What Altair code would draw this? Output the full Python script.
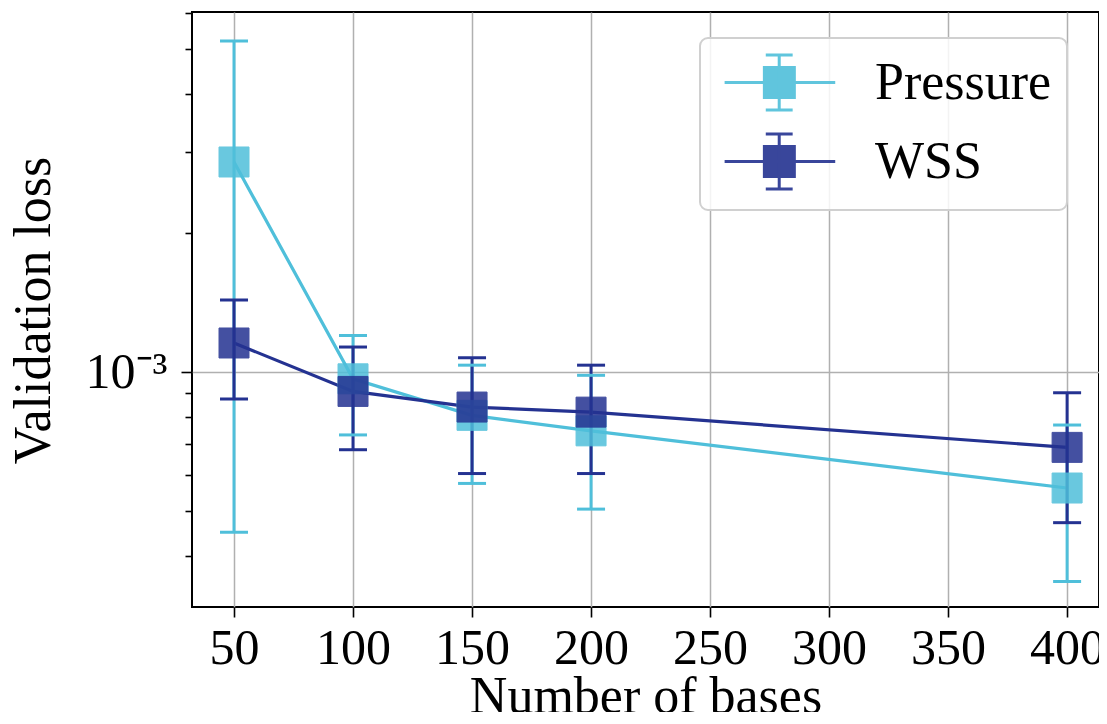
import altair as alt
import pandas as pd

# ---- data ----
bases = [50, 100, 150, 200, 400]
series_names = ["Pressure", "WSS"]
pressure_mean = [2.85e-3, 9.67e-4, 8.06e-4, 7.46e-4, 5.61e-4]
pressure_upper = [5.21e-3, 1.20e-3, 1.035e-3, 9.84e-4, 7.68e-4]
pressure_lower = [4.50e-4, 7.31e-4, 5.74e-4, 5.05e-4, 3.52e-4]
wss_mean = [1.156e-3, 9.08e-4, 8.40e-4, 8.19e-4, 6.87e-4]
wss_upper = [1.432e-3, 1.133e-3, 1.074e-3, 1.035e-3, 9.02e-4]
wss_lower = [8.74e-4, 6.79e-4, 6.03e-4, 6.03e-4, 4.72e-4]

x_ticks = [50, 100, 150, 200, 250, 300, 350, 400]
y_major = [1e-3]
y_minor = [4e-4, 5e-4, 6e-4, 7e-4, 8e-4, 9e-4, 2e-3, 3e-3, 4e-3, 5e-3, 6e-3]
colors = ["#4FBFDA", "#243291"]

rows = []
for name, m, lo, up in [("Pressure", pressure_mean, pressure_lower, pressure_upper),
                        ("WSS", wss_mean, wss_lower, wss_upper)]:
    for i, b in enumerate(bases):
        rows.append({"series": name, "bases": b, "mean": m[i], "lower": lo[i], "upper": up[i]})
df = pd.DataFrame(rows)

FONT = "Liberation Serif"
FS = 52
TFS = 50

xscale = alt.Scale(domain=[32.35, 413.4], nice=False, zero=False)
yscale = alt.Scale(type="log", domain=[3.10e-4, 6.02e-3], nice=False)
cscale = alt.Scale(domain=series_names, range=colors)

x_axis = alt.Axis(values=x_ticks, title="Number of bases", grid=True, domain=False,
                  tickSize=10, tickWidth=1.6, tickColor="black",
                  labelFont=FONT, labelFontSize=TFS, labelColor="black", labelPadding=6,
                  labelFlush=False, labelOverlap=False,
                  titleFont=FONT, titleFontSize=FS, titleFontWeight="normal", titleColor="black",
                  titleBaseline="alphabetic", titleY=105,
                  gridColor="#b0b0b0", gridWidth=1.5)

y_axis = alt.Axis(values=y_major + y_minor, title="Validation loss", grid=True, domain=False,
                  labelExpr="datum.value == 0.001 ? '10⁻³' : ''",
                  tickSize={"condition": {"test": "datum.value == 0.001", "value": 11}, "value": 7},
                  tickWidth=1.6, tickColor="black",
                  gridOpacity={"condition": {"test": "datum.value == 0.001", "value": 1}, "value": 0},
                  gridColor="#b0b0b0", gridWidth=1.5,
                  labelFont=FONT, labelFontSize=TFS, labelColor="black", labelPadding=14,
                  labelFlush=False, labelOverlap=False,
                  titleFont=FONT, titleFontSize=FS, titleFontWeight="normal", titleColor="black",
                  titleAngle=270, titleBaseline="alphabetic", titleX=-143, titleY=298,
                  titleAlign="center")

sym_path = ("M-0.71,0H3.24"
            "M0.71,-0.54H1.78V0.54H0.71Z"
            "M1.24,-0.98V0.98"
            "M0.76,-0.98H1.72"
            "M0.76,0.98H1.72")

legend = alt.Legend(title=None, orient="none", legendX=508, legendY=26,
                    fillColor="rgba(255,255,255,0.85)", strokeColor="#d0d0d0",
                    cornerRadius=8, padding=15, rowPadding=12,
                    labelFont=FONT, labelFontSize=FS, labelColor="black", labelOffset=101,
                    symbolType=sym_path, symbolSize=3136, symbolStrokeWidth=3,
                    symbolOpacity=0.9, labelLimit=400)

base = alt.Chart(df)
X = alt.X("bases:Q", scale=xscale, axis=x_axis)
C = alt.Color("series:N", scale=cscale, legend=legend)

lines = base.mark_line(strokeWidth=3.2).encode(
    x=X,
    y=alt.Y("mean:Q", scale=yscale, axis=y_axis),
    color=C,
    order="bases:Q",
)

bars = base.mark_rule(strokeWidth=3).encode(
    x=X,
    y=alt.Y("lower:Q", scale=yscale),
    y2="upper:Q",
    color=C,
)
cap_top = base.mark_tick(orient="horizontal", size=28, thickness=3, opacity=1).encode(
    x=X, y=alt.Y("upper:Q", scale=yscale), color=C,
)
cap_bot = base.mark_tick(orient="horizontal", size=28, thickness=3, opacity=1).encode(
    x=X, y=alt.Y("lower:Q", scale=yscale), color=C,
)

markers = base.mark_square(size=900, opacity=0.85, strokeWidth=1).encode(
    x=X,
    y=alt.Y("mean:Q", scale=yscale),
    color=C,
    stroke=alt.Stroke("series:N", scale=cscale, legend=legend),
)

chart = alt.layer(lines, bars, cap_top, cap_bot, markers).properties(
    width=907, height=595,
    background="white",
    autosize=alt.AutoSizeParams(type="none"),
    padding={"left": 184, "top": 4, "right": 0, "bottom": 105},
).configure_view(stroke="black", strokeWidth=2
).configure_legend(strokeWidth=2)

chart.save("out.html", embed_options={"renderer": "svg", "actions": False})
